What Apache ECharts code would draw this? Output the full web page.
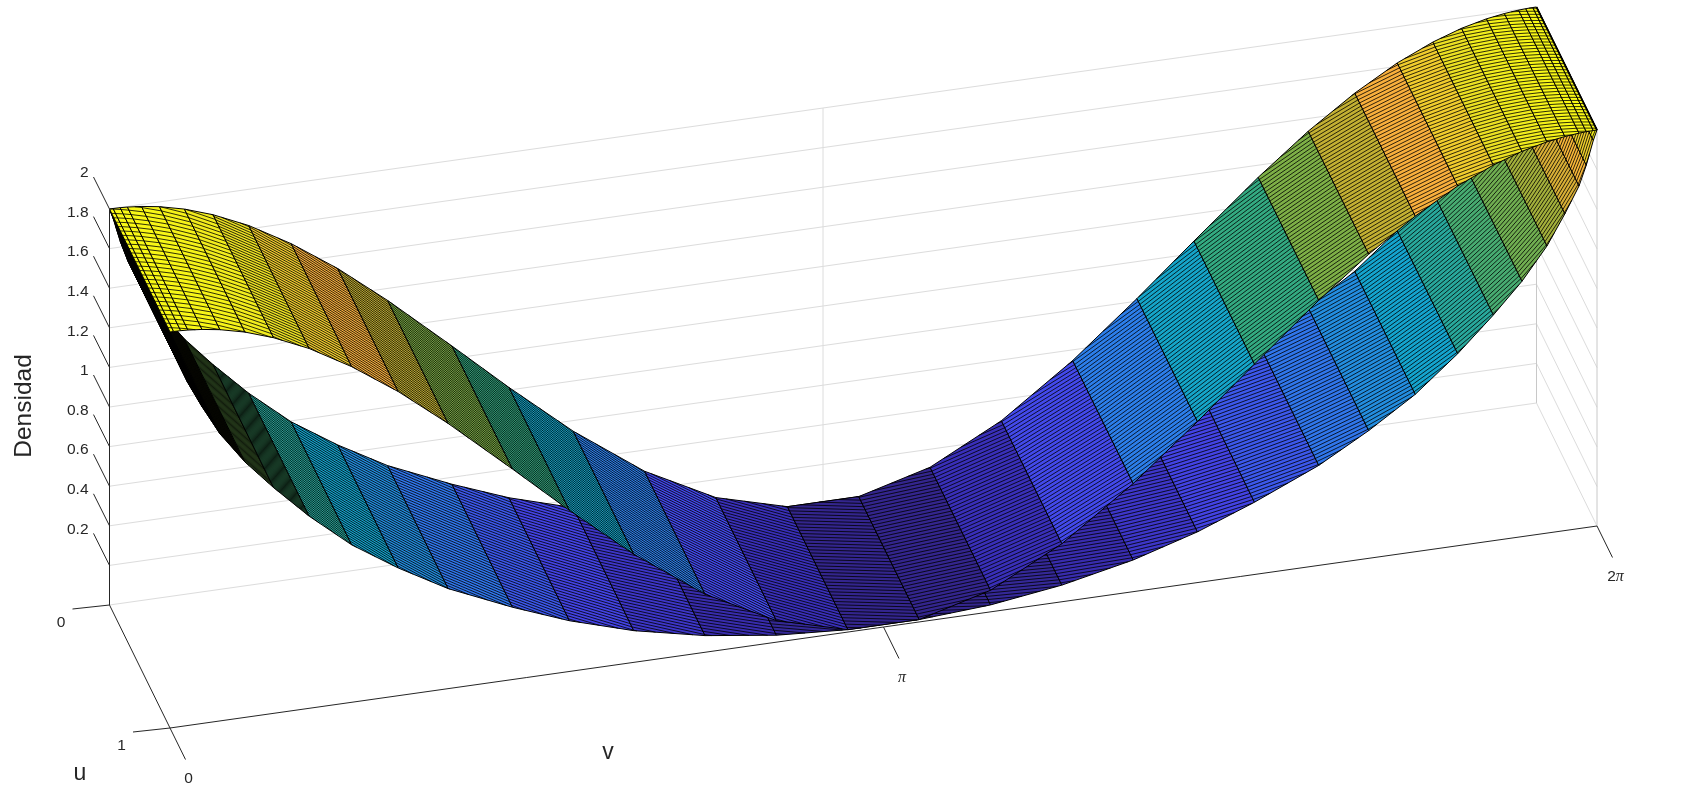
<!DOCTYPE html>
<html><head><meta charset="utf-8">
<style>html,body{margin:0;padding:0;background:#fff}#c{width:1684px;height:805px}</style>
<script src="https://cdn.jsdelivr.net/npm/echarts@6/dist/echarts.min.js"></script>
</head><body><div id="c"></div>
<script>
// ---- values ----
const vColumns = [0,0.016,0.047,0.079,0.141,0.22,0.33,0.456,0.613,0.80,1.005,1.225,1.508,1.759,2.042,2.356,2.670,2.985,
  3.299,3.613,3.927,4.241,4.524,4.775,5.058,5.278,5.483,5.670,5.827,5.953,6.063,6.142,6.204,6.236,6.267,6.283];
const densityUpper = [2,2,1.999,1.997,1.99,1.976,1.946,1.897,1.817,1.695,1.536,1.339,1.063,0.813,0.546,0.293,0.109,0.012,
  0.012,0.109,0.293,0.546,0.813,1.063,1.339,1.536,1.695,1.817,1.897,1.946,1.976,1.99,1.997,1.999,2,2];
const densityLower = [2,1.95,1.83,1.73,1.6,1.45,1.29,1.14,0.97,0.795,0.645,0.505,0.365,0.256,0.16,0.084,0.035,0.012,
  0.012,0.035,0.084,0.16,0.256,0.365,0.505,0.645,0.795,0.97,1.14,1.29,1.45,1.6,1.73,1.83,1.95,2];
const zTicks = [0.2,0.4,0.6,0.8,1,1.2,1.4,1.6,1.8,2];
const zTickLabels = ['0.2','0.4','0.6','0.8','1','1.2','1.4','1.6','1.8','2'];
const uTicks = [0,1];
const uTickLabels = ['0','1'];
const vTicks = [0,Math.PI,2*Math.PI];
const vTickLabels = ['0','{p|π}','{n|2}{p|π}'];

// ---- view of the box (orthographic) ----
const VIEW = {ox:170, oy:728, vx:1427, vy:-202, ux:-60.5, uy:-123, zy:-198};
const TAU = 2*Math.PI;
function project(v,u,z){
  const f=v/TAU, b=1-u;
  return [VIEW.ox+VIEW.vx*f+VIEW.ux*b, VIEW.oy+VIEW.vy*f+VIEW.uy*b+VIEW.zy*z];
}
const COLORMAP = [[0,[50,36,135]],[0.06,[58,48,190]],[0.14,[68,70,235]],[0.27,[45,125,235]],[0.40,[20,165,205]],
  [0.53,[50,170,130]],[0.67,[125,175,70]],[0.77,[195,175,50]],[0.85,[250,175,60]],[0.91,[240,205,45]],[0.95,[235,225,35]],[1,[248,248,22]]];
function colorOf(z){
  const t=Math.max(0,Math.min(1,z/2));
  for(let i=1;i<COLORMAP.length;i++){
    if(t<=COLORMAP[i][0]){
      const a=COLORMAP[i-1],b=COLORMAP[i],k=(t-a[0])/(b[0]-a[0]);
      return 'rgb('+a[1].map((c,n)=>Math.round(c+(b[1][n]-c)*k)).join(',')+')';
    }
  }
  return 'rgb(248,248,22)';
}
const SHEAR = 0.32;
const MESH = '#000';
function meshStep(v,lower){
  if(lower && v<0.33) return 1/120;
  if(lower && v<0.61) return 1/72;
  if(v<0.35) return 1/28;
  return v<Math.PI ? 1/38 : 1/40;
}
function ribbonItem(density,lower){
  return function(params,api){
    const i=api.value(0), v0=vColumns[i], v1=vColumns[i+1], z0=density[i], z1=density[i+1];
    const pt=(s,u)=>{const p=project(v0+(v1-v0)*s,u,z0+(z1-z0)*s);return api.coord(p);};
    const children=[{type:'polygon',shape:{points:[pt(0,0),pt(1,0),pt(1,1),pt(0,1)]},
      style:{fill:colorOf(z0),stroke:MESH,lineWidth:1}}];
    const b=SHEAR*(v1-v0), du=meshStep(v0,lower);
    const jMin=Math.floor(-SHEAR*v1/du)-1, jMax=Math.ceil(1/du);
    for(let j=jMin;j<=jMax;j++){
      const a=j*du+SHEAR*v0;
      let s0=0,s1=1;
      if(b>0){ s0=Math.max(0,-a/b); s1=Math.min(1,(1-a)/b); }
      else if(a<0||a>1) continue;
      if(s1<=s0) continue;
      const p=pt(s0,a+b*s0), q=pt(s1,a+b*s1);
      children.push({type:'line',shape:{x1:p[0],y1:p[1],x2:q[0],y2:q[1]},style:{stroke:MESH,lineWidth:0.95,opacity:0.85}});
    }
    if(i===vColumns.length-2){
      const p=pt(1,0), q=pt(1,1);
      children.push({type:'line',shape:{x1:p[0],y1:p[1],x2:q[0],y2:q[1]},style:{stroke:MESH,lineWidth:1.7}});
    }
    return {type:'group',children};
  };
}
const panelIndex = vColumns.slice(1).map((_,i)=>[i]);

const GRID='#dcdcdc', GRID2='#c8c8c8', AXIS='#262626';
function seg(api,a,b,stroke,w){
  const p=api.coord(project(a[0],a[1],a[2])), q=api.coord(project(b[0],b[1],b[2]));
  return {type:'line',shape:{x1:p[0],y1:p[1],x2:q[0],y2:q[1]},style:{stroke,lineWidth:w}};
}
function wallsItem(params,api){
  const z=api.value(0), c=[];
  c.push(seg(api,[0,0,z],[TAU,0,z],GRID,1));
  c.push(seg(api,[TAU,0,z],[TAU,1,z],GRID,1));
  return {type:'group',children:c};
}
function framesItem(params,api){
  const top=zTicks[zTicks.length-1];
  return {type:'group',children:[
    seg(api,[Math.PI,0,0],[Math.PI,0,top],GRID,1),
    seg(api,[TAU,0,0],[TAU,0,top],GRID2,1),
    seg(api,[TAU,1,0],[TAU,1,top],GRID2,1),
    seg(api,[0,0,0],[TAU,0,0],GRID,1),
    seg(api,[TAU,0,0],[TAU,1,0],GRID,1)
  ]};
}
const F='"Liberation Sans",Arial,sans-serif';
function label(p,text,extra){
  return Object.assign({type:'text',x:p[0],y:p[1],style:Object.assign({text,font:'15.5px '+F,fill:AXIS,align:'center',verticalAlign:'middle'},extra&&extra.style)},extra&&extra.el);
}
function axesItem(params,api){
  const top=zTicks[zTicks.length-1], c=[];
  c.push(seg(api,[0,0,0],[0,0,top],AXIS,1));
  c.push(seg(api,[0,0,0],[0,1,0],AXIS,1));
  c.push(seg(api,[0,1,0],[TAU,1,0],AXIS,1));
  zTicks.forEach((z,i)=>{
    const p=api.coord(project(0,0,z));
    c.push({type:'line',shape:{x1:p[0],y1:p[1],x2:p[0]-16,y2:p[1]-32},style:{stroke:AXIS,lineWidth:1}});
    c.push(label([p[0]-21,p[1]-36],zTickLabels[i],{style:{align:'right'}}));
  });
  uTicks.forEach((u,i)=>{
    const p=api.coord(project(0,u,0));
    c.push({type:'line',shape:{x1:p[0],y1:p[1],x2:p[0]-37,y2:p[1]+4},style:{stroke:AXIS,lineWidth:1}});
    c.push(label([p[0]-48.5,p[1]+18],uTickLabels[i]));
  });
  vTicks.forEach((v,i)=>{
    const p=api.coord(project(v,1,0));
    c.push({type:'line',shape:{x1:p[0],y1:p[1],x2:p[0]+15.5,y2:p[1]+31.5},style:{stroke:AXIS,lineWidth:1}});
    c.push(label([p[0]+18.5,p[1]+51],vTickLabels[i],{style:{rich:{
      p:{font:'italic 16px "Liberation Serif",serif',fill:AXIS},
      n:{font:'15.5px '+F,fill:AXIS}}}}));
  });
  const b=api.coord([608,753]), u=api.coord([80,774]), d=api.coord([24,406]);
  c.push(label(b,'v',{style:{font:'23px '+F}}));
  c.push(label(u,'u',{style:{font:'23px '+F}}));
  c.push(label(d,'Densidad',{style:{font:'24.5px '+F},el:{rotation:Math.PI/2}}));
  return {type:'group',children:c};
}
const chart=echarts.init(document.getElementById('c'),null,{renderer:'canvas'});
const common={type:'custom',coordinateSystem:'cartesian2d',silent:true,animation:false,clip:false};
chart.setOption({
  animation:false,backgroundColor:'#fff',
  grid:{left:0,right:0,top:0,bottom:0},
  xAxis:{type:'value',min:0,max:1684,show:false},
  yAxis:{type:'value',min:0,max:805,inverse:true,show:false},
  series:[
    Object.assign({},common,{name:'walls',data:zTicks.map(z=>[z]),renderItem:wallsItem,encode:{x:0,y:0}}),
    Object.assign({},common,{name:'frames',data:[[0]],renderItem:framesItem,encode:{x:0,y:0}}),
    Object.assign({},common,{name:'lower',data:panelIndex,renderItem:ribbonItem(densityLower,true),encode:{x:0,y:0}}),
    Object.assign({},common,{name:'upper',data:panelIndex,renderItem:ribbonItem(densityUpper,false),encode:{x:0,y:0}}),
    Object.assign({},common,{name:'axes',data:[[0]],renderItem:axesItem,encode:{x:0,y:0}})
  ]
});
</script></body></html>
